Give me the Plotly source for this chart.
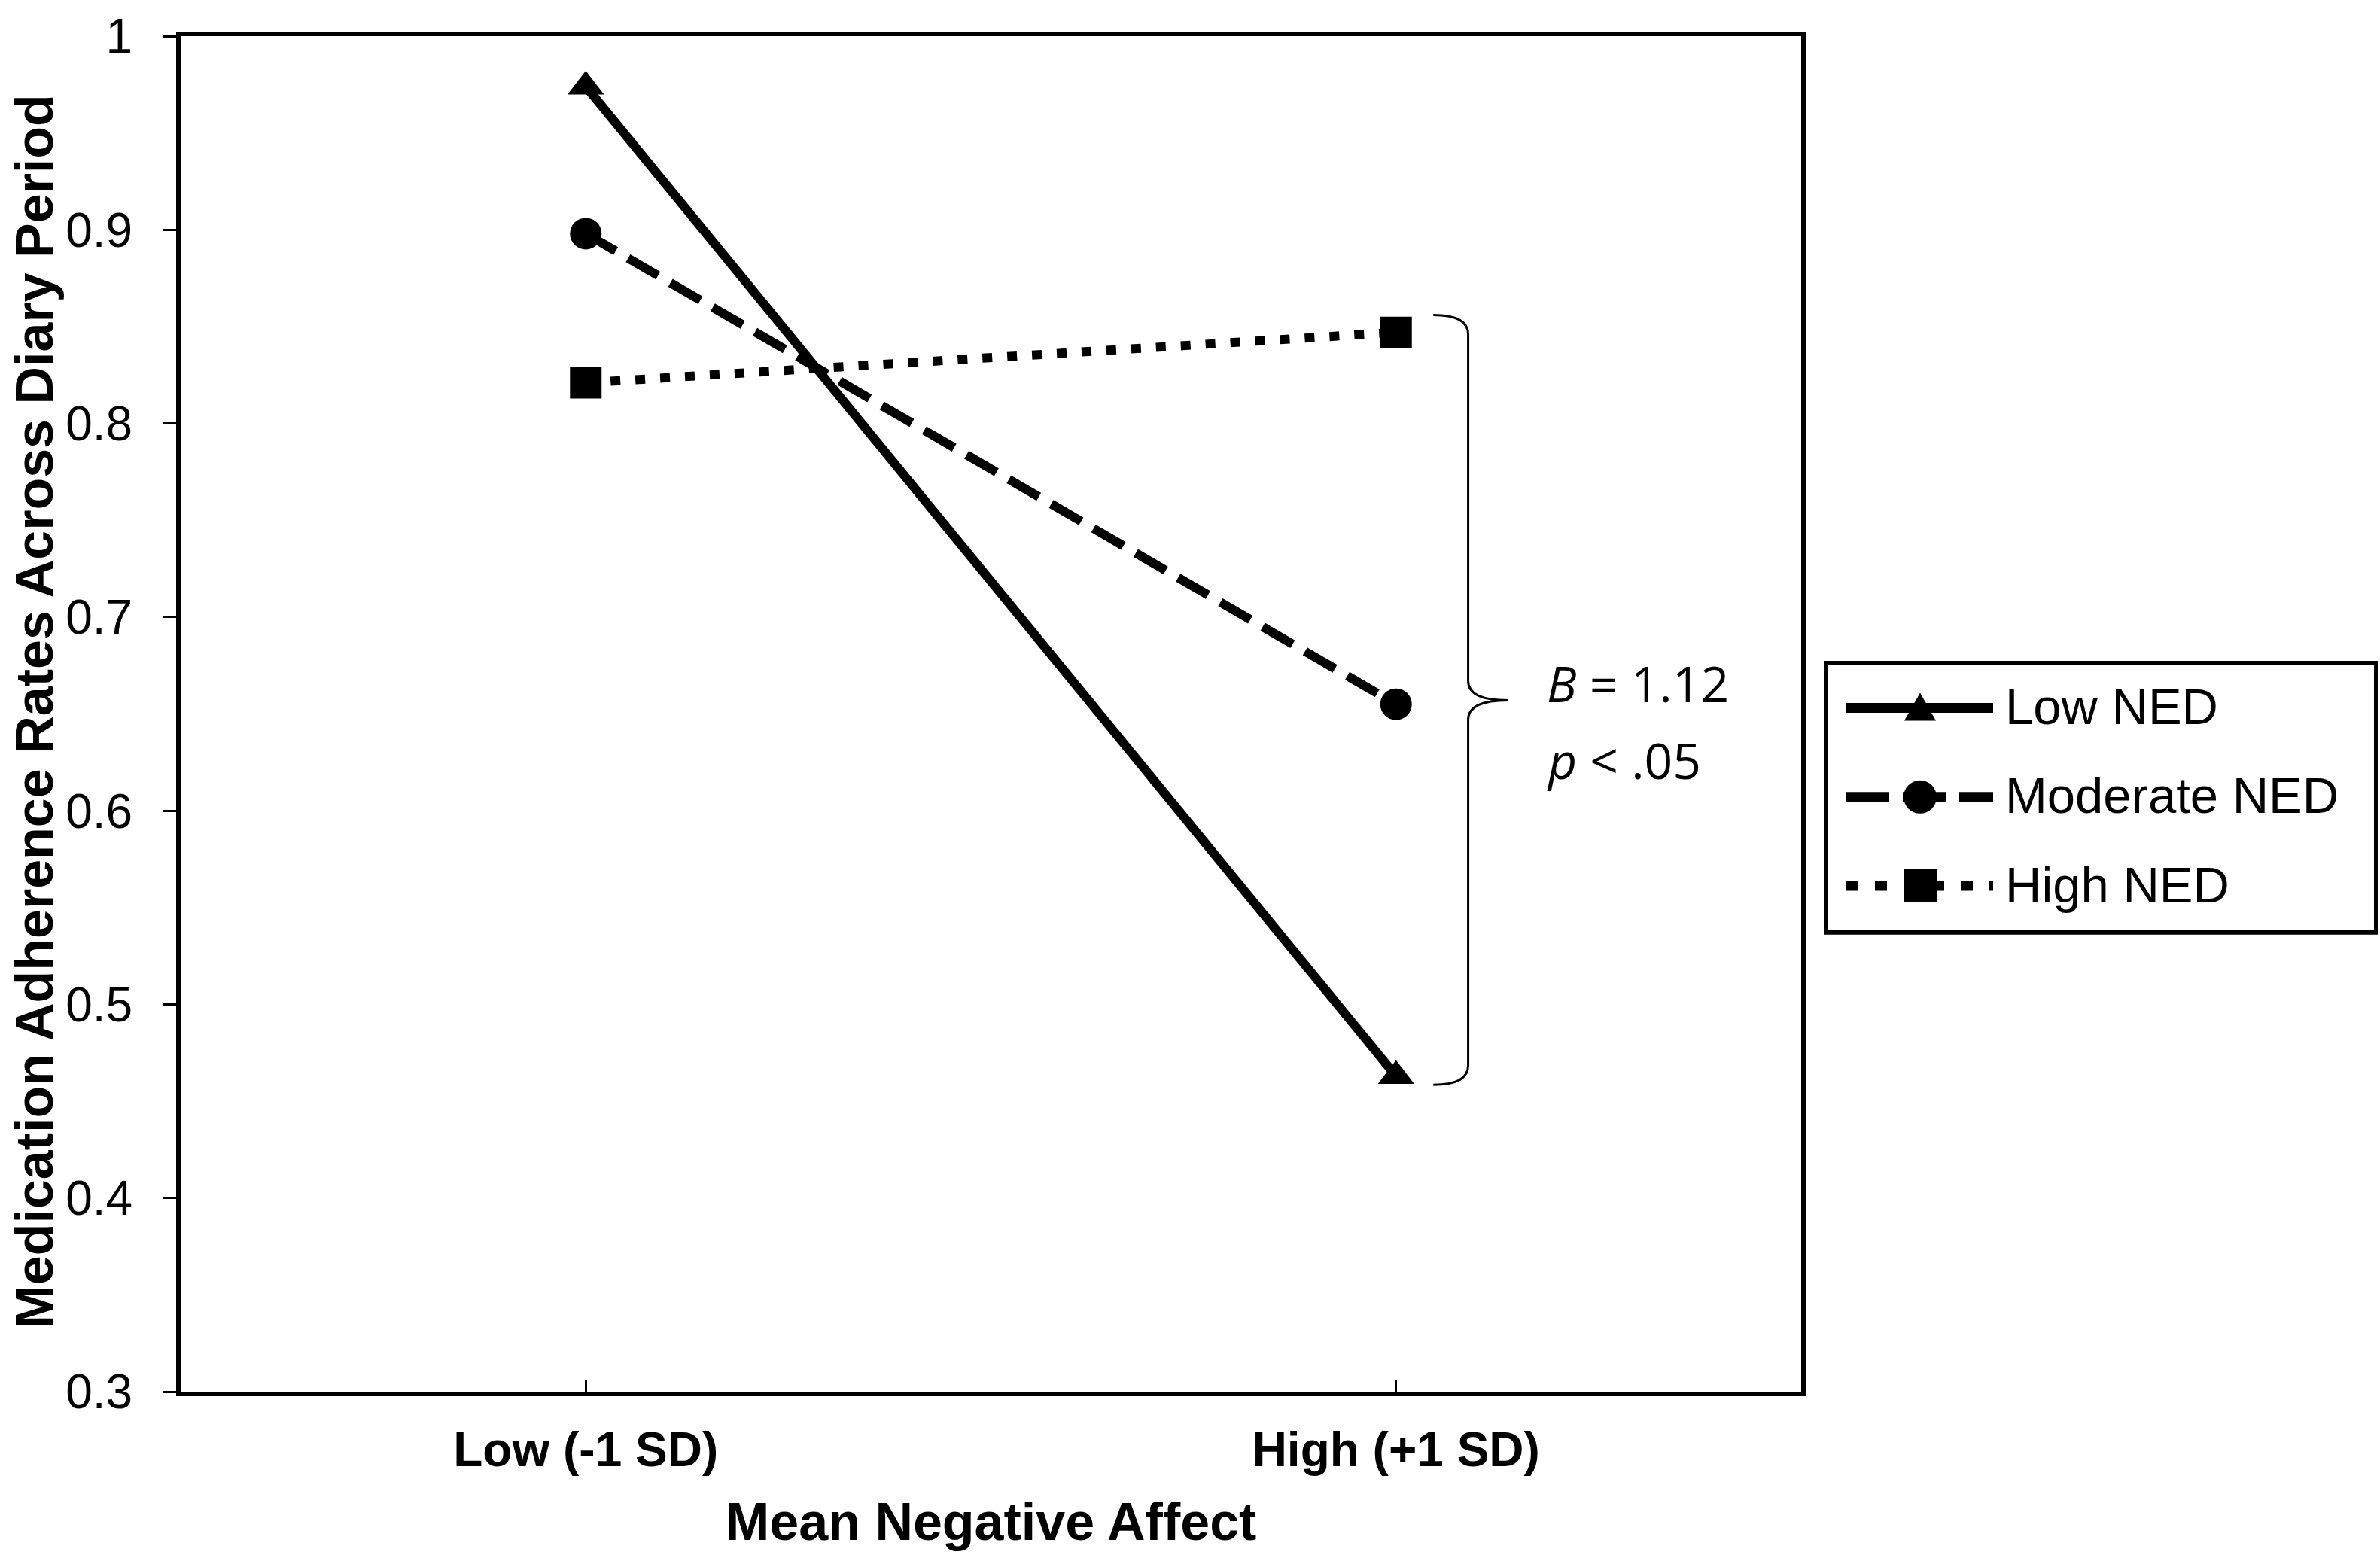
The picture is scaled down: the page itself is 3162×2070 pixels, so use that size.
import plotly.graph_objects as go

# values
categories = ["Low (-1 SD)", "High (+1 SD)"]
cat_pos = [0, 1]
low_ned = [0.974, 0.463]
moderate_ned = [0.898, 0.655]
high_ned = [0.821, 0.847]
series_names = ["Low NED", "Moderate NED", "High NED"]
y_ticks = [0.3, 0.4, 0.5, 0.6, 0.7, 0.8, 0.9, 1.0]
y_tick_labels = ["0.3", "0.4", "0.5", "0.6", "0.7", "0.8", "0.9", "1"]
x_title = "Mean Negative Affect"
y_title = "Medication Adherence Rates Across Diary Period"

W, H = 3162, 2070
ml, mr, mt, mb = 240, 769, 37, 221
ARIAL = "Liberation Sans, Arial, sans-serif"


def px_x(px):
    # page pixel -> paper fraction
    return (px - ml) / (W - ml - mr)


def px_y(py):
    return (H - mb - py) / (H - mt - mb)


styles = [
    dict(dash="solid", legend_dash="solid", symbol="triangle-up"),
    dict(dash="46px,19px", legend_dash="57px,18px", symbol="circle"),
    dict(dash="13px,20px", legend_dash="16px,22px", symbol="square"),
]

fig = go.Figure()

for i, (name, vals) in enumerate(zip(series_names, [low_ned, moderate_ned, high_ned])):
    st = styles[i]
    fig.add_trace(go.Scatter(
        x=cat_pos, y=vals, name=name, mode="lines+markers",
        line=dict(color="black", width=12, dash=st["dash"]),
        marker=dict(color="black", symbol=st["symbol"], size=42),
        showlegend=False,
    ))

# curly brace next to the high points
bx0, bx1, btip = 1.046, 1.089, 1.138
ytop, ymid, ybot = 0.856, 0.657, 0.4585
brace = (
    f"M {bx0},{ytop} Q {bx1},{ytop} {bx1},{ytop - 0.01} "
    f"L {bx1},{ymid + 0.01} Q {bx1},{ymid} {btip},{ymid} "
    f"Q {bx1},{ymid} {bx1},{ymid - 0.01} "
    f"L {bx1},{ybot + 0.01} Q {bx1},{ybot} {bx0},{ybot}"
)
fig.add_shape(type="path", path=brace, xref="x", yref="y",
              line=dict(color="black", width=3))

note_font = dict(family="Open Sans, Noto Sans, sans-serif", size=66, color="black")
fig.add_annotation(x=1.184, y=0.666, xref="x", yref="y", text="<i>B</i> = 1.12",
                   showarrow=False, xanchor="left", yanchor="middle", font=note_font)
fig.add_annotation(x=1.184, y=0.6265, xref="x", yref="y", text="<i>p</i> &lt; .05",
                   showarrow=False, xanchor="left", yanchor="middle", font=note_font)

# axis titles
fig.add_annotation(x=0.5, y=px_y(2023), xref="paper", yref="paper",
                   text=f"<b>{x_title}</b>", showarrow=False,
                   xanchor="center", yanchor="middle",
                   font=dict(family=ARIAL, size=70, color="black"))
fig.add_annotation(x=px_x(46), y=px_y(940), xref="paper", yref="paper",
                   text=f"<b>{y_title}</b>", showarrow=False, textangle=-90,
                   xanchor="center", yanchor="middle",
                   font=dict(family=ARIAL, size=70, color="black"))

# legend box drawn by hand so the symbols keep their size
fig.add_shape(type="rect", xref="paper", yref="paper",
              x0=px_x(2426), x1=px_x(3157), y0=px_y(1235), y1=px_y(875),
              line=dict(color="black", width=6), fillcolor="white")
row_y = [935, 1054, 1173]
for i, name in enumerate(series_names):
    st = styles[i]
    yy = px_y(row_y[i])
    fig.add_shape(type="line", xref="paper", yref="paper",
                  x0=px_x(2453), x1=px_x(2648), y0=yy, y1=yy,
                  line=dict(color="black", width=13, dash=st["legend_dash"]))
    mx = px_x(2551)
    if st["symbol"] == "circle":
        fig.add_shape(type="circle", xref="paper", yref="paper",
                      xsizemode="pixel", ysizemode="pixel", xanchor=mx, yanchor=yy,
                      x0=-22, x1=22, y0=-22, y1=22,
                      line=dict(width=0), fillcolor="black")
    elif st["symbol"] == "square":
        fig.add_shape(type="rect", xref="paper", yref="paper",
                      xsizemode="pixel", ysizemode="pixel", xanchor=mx, yanchor=yy,
                      x0=-22, x1=22, y0=-22, y1=22,
                      line=dict(width=0), fillcolor="black")
    else:
        fig.add_shape(type="path", xref="paper", yref="paper",
                      xsizemode="pixel", ysizemode="pixel", xanchor=mx, yanchor=yy,
                      path="M -21,-17 L 21,-17 L 0,20 Z",
                      line=dict(width=0), fillcolor="black")
    fig.add_annotation(x=px_x(2662), y=px_y(row_y[i] - 2), xref="paper", yref="paper",
                       text=name, showarrow=False, xanchor="left", yanchor="middle",
                       font=dict(family=ARIAL, size=67, color="black"))

fig.update_layout(
    width=W, height=H,
    margin=dict(l=ml, r=mr, t=mt, b=mb),
    paper_bgcolor="white", plot_bgcolor="white",
    font=dict(family=ARIAL, color="black"),
    showlegend=False,
    xaxis=dict(
        range=[-0.5, 1.5], tickvals=cat_pos, ticktext=categories,
        showgrid=False, zeroline=False,
        showline=True, linecolor="black", linewidth=6, mirror=True,
        ticks="inside", ticklen=16, tickwidth=3, tickcolor="black",
        tickfont=dict(size=64, family=ARIAL, weight="bold"),
        ticklabelstandoff=16,
    ),
    yaxis=dict(
        range=[0.3, 1.0], tickvals=y_ticks, ticktext=y_tick_labels,
        showgrid=False, zeroline=False,
        showline=True, linecolor="black", linewidth=6, mirror=True,
        ticks="outside", ticklen=17, tickwidth=3, tickcolor="black",
        tickfont=dict(size=64, family=ARIAL),
        ticklabelstandoff=28, ticklabeloverflow="allow",
    ),
)

# the page's default 8px body margin would shift the whole figure
fig.write_html("out.html", config={"displayModeBar": False},
               post_script="document.body.style.margin='0';")
